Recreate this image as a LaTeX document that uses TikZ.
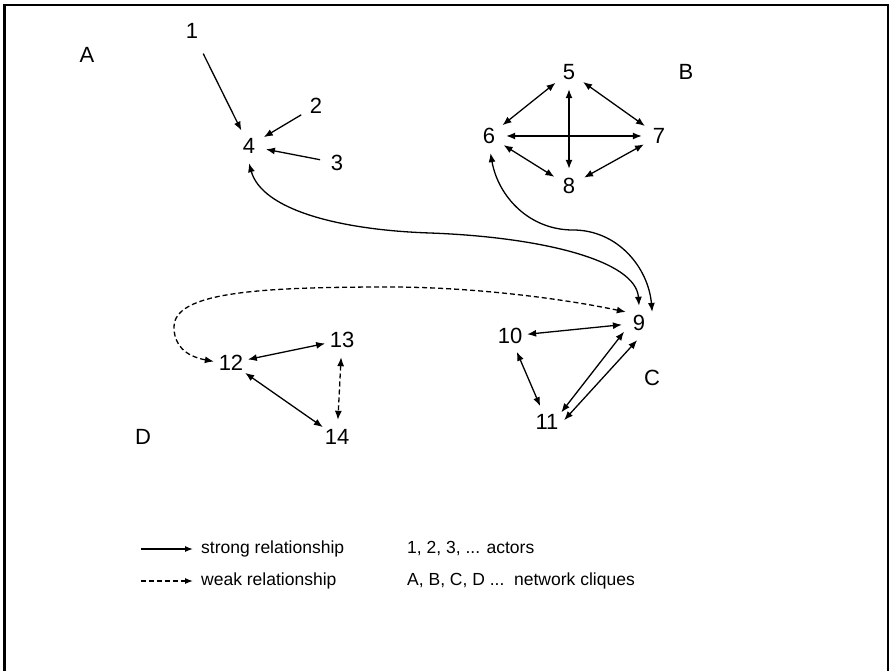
\documentclass[tikz,border=0pt]{standalone}
\usepackage{fontspec}
\setmainfont{Liberation Sans}
\usetikzlibrary{arrows.meta}
\begin{document}
\begin{tikzpicture}[x=1pt,y=1pt,
  actor/.style={circle,minimum size=34pt,inner sep=0pt,font=\fontsize{22}{26}\selectfont},
  clique/.style={inner sep=0pt,font=\fontsize{22}{26}\selectfont},
  legtext/.style={anchor=west,inner sep=0pt,font=\fontsize{17.5}{20}\selectfont},
  sa/.style={line width=1.3pt,-{Latex[length=9pt,width=7pt]}},
  sab/.style={line width=1.3pt,{Latex[length=9pt,width=7pt]}-{Latex[length=9pt,width=7pt]}},
  wab/.style={line width=1.3pt,dash pattern=on 5pt off 3pt,{Latex[length=9pt,width=7pt]}-{Latex[length=9pt,width=7pt]}},
  frame/.style={line width=2.2pt}]
\useasboundingbox (0,0) rectangle (891,670);
\draw[frame] (4.5,-2) -- (4.5,665) -- (888,665) -- (888,-2);

% clique labels
\node[clique] (cA) at (87,615) {A};
\node[clique] (cB) at (686,598) {B};
\node[clique] (cC) at (652,292) {C};
\node[clique] (cD) at (143,233) {D};

% actors
\node[actor] (n1) at (192,639) {1};
\node[actor] (n2) at (316,564) {2};
\node[actor] (n3) at (337,507) {3};
\node[actor] (n4) at (249,524) {4};
\node[actor] (n5) at (569,598) {5};
\node[actor] (n6) at (489,534) {6};
\node[actor] (n7) at (659,534) {7};
\node[actor] (n8) at (569,484) {8};
\node[actor] (n9) at (639,347) {9};
\node[actor] (n10) at (510,334) {10};
\node[actor] (n11) at (547,248) {11};
\node[actor] (n12) at (231,307) {12};
\node[actor] (n13) at (342,330) {13};
\node[actor] (n14) at (337,233) {14};

% clique A
\draw[sa,shorten <=8pt] (n1) -- (n4);
\draw[sa] (n2) -- (n4);
\draw[sa] (n3) -- (n4);

% clique B
\draw[sab] (n5) -- (n6);
\draw[sab] (n5) -- (n7);
\draw[sab] (n5) -- (n8);
\draw[sab] (n6) -- (n7);
\draw[sab] (n6) -- (n8);
\draw[sab] (n7) -- (n8);

% clique C
\draw[sab] (n10) -- (n9);
\draw[sab] (n10) -- (n11);
\draw[sab] (n9.210) -- (n11.34);
\draw[sab] (n9.264) -- (n11.6);

% clique D
\draw[sab] (n12) -- (n13);
\draw[sab] (n12) -- (n14);
\draw[wab] (n13) -- (n14);

% long links
\coordinate (m49) at (430,437);
\coordinate (m69) at (573,440);
\coordinate (dp) at (390,383);
\coordinate (dl) at (174,343);
\draw[sab] (n4.south) .. controls (262,460) and (340,440) .. (m49)
  .. controls (540,433) and (636,410) .. (n9.north);
\draw[sab] (n6.-85) to[out=-80,in=180] (m69) to[out=0,in=95] (n9.40);
\draw[wab] (n9.140) .. controls (560,372) and (470,383) .. (dp)
  .. controls (260,383) and (174,378) .. (dl)
  .. controls (174,325) and (185,314) .. (n12.175);

% legend
\coordinate (ls1) at (141,121);
\coordinate (ls2) at (193,121);
\coordinate (lw1) at (141,89);
\coordinate (lw2) at (193,89);
\draw[line width=1.3pt,-{Latex[length=8pt,width=6pt]}] (ls1) -- (ls2);
\draw[line width=1.3pt,dash pattern=on 5pt off 3pt,-{Latex[length=8pt,width=6pt]}] (lw1) -- (lw2);
\node[legtext] (t1) at (201,121) {strong relationship};
\node[legtext] (t2) at (201,89) {weak relationship};
\node[legtext] (t3) at (407,121) {1, 2, 3, ... actors};
\node[legtext] (t4) at (407,89) {A, B, C, D ...\ \ network cliques};
\end{tikzpicture}
\end{document}
